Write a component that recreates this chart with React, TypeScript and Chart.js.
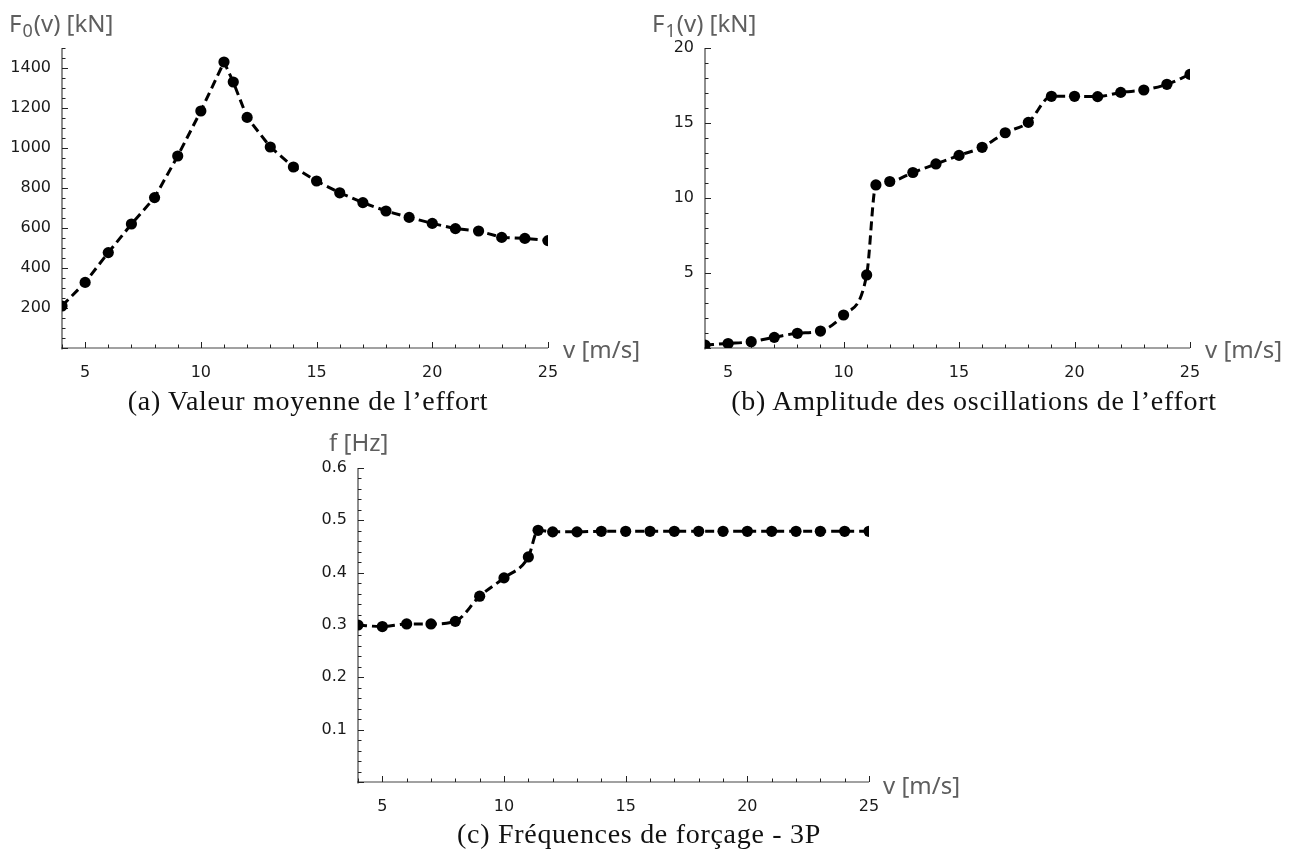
import React, { useEffect, useRef } from 'react';
import { Chart, registerables } from 'chart.js';

Chart.register(...registerables);

// ---------- data ----------
const windSpeed = [4, 5, 6, 7, 8, 9, 10, 11, 11.4, 12, 13, 14, 15, 16, 17, 18, 19, 20, 21, 22, 23, 24, 25];
const meanForce = [210, 328, 477, 620, 752, 960, 1185, 1430, 1330, 1153, 1005, 905, 835, 776, 727, 685, 653, 623, 597, 585, 553, 548, 537];
const amplitude = [0.2, 0.3, 0.42, 0.71, 0.98, 1.13, 2.2, 4.87, 10.87, 11.1, 11.7, 12.27, 12.84, 13.38, 14.35, 15.04, 16.78, 16.78, 16.76, 17.04, 17.2, 17.58, 18.24];
const frequency = [0.3, 0.297, 0.302, 0.302, 0.307, 0.355, 0.39, 0.43, 0.481, 0.478, 0.478, 0.479, 0.479, 0.479, 0.479, 0.479, 0.479, 0.479, 0.479, 0.479, 0.479, 0.479, 0.479];

const speedTicks = [5, 10, 15, 20, 25];
const meanForceTicks = [200, 400, 600, 800, 1000, 1200, 1400];
const amplitudeTicks = [5, 10, 15, 20];
const frequencyTicks = [0.1, 0.2, 0.3, 0.4, 0.5, 0.6];

const TICK_FONT = 'DejaVu Sans';
const LABEL_FONT = 'Noto Sans';
const CAPTION_FONT = 'Liberation Serif';

// Mathematica-like axes: inward ticks with minor subdivisions
const axesPlugin = {
  id: 'mmaAxes',
  beforeDatasetsDraw(chart: any, _args: any, opts: any) {
    const { ctx, chartArea: a, scales } = chart;
    const x = scales.x;
    const y = scales.y;
    ctx.save();
    ctx.strokeStyle = '#444';
    ctx.lineWidth = 1.2;
    ctx.beginPath();
    ctx.moveTo(a.left - 1, a.bottom);
    ctx.lineTo(a.right, a.bottom);
    ctx.moveTo(a.left, a.bottom + 1.5);
    ctx.lineTo(a.left, a.top);
    ctx.stroke();
    ctx.lineWidth = 1;
    ctx.strokeStyle = '#222';
    ctx.beginPath();
    const nx = Math.round((x.max - x.min) / opts.xMinor);
    for (let i = 0; i <= nx; i++) {
      const v = x.min + i * opts.xMinor;
      const r = v / opts.xMajor;
      const major = Math.abs(r - Math.round(r)) < 1e-6;
      const px = Math.round(x.getPixelForValue(v)) + 0.5;
      ctx.moveTo(px, a.bottom);
      ctx.lineTo(px, a.bottom - (major ? 6 : 3.5));
    }
    const ny = Math.round((y.max - y.min) / opts.yMinor);
    for (let i = 0; i <= ny; i++) {
      const v = y.min + i * opts.yMinor;
      const r = v / opts.yMajor;
      const major = Math.abs(r - Math.round(r)) < 1e-6;
      const py = Math.round(y.getPixelForValue(v)) + 0.5;
      ctx.moveTo(a.left, py);
      ctx.lineTo(a.left + (major ? 6 : 3.5), py);
    }
    ctx.stroke();
    ctx.restore();
  },
};

interface PanelProps {
  left: number;
  top: number;
  width: number;
  height: number;
  padTop: number;
  padRight: number;
  yWidth: number;
  xHeight: number;
  values: number[];
  yMax: number;
  yTicks: number[];
  yMinor: number;
  yMajor: number;
  smooth: boolean;
}

function Panel(p: PanelProps) {
  const ref = useRef<HTMLCanvasElement | null>(null);
  useEffect(() => {
    if (!ref.current) return;
    const tickStyle = {
      font: { family: TICK_FONT, size: 16 },
      color: '#1a1a1a',
      autoSkip: false,
      maxRotation: 0,
      callback: (v: any) => String(v),
    };
    const chart = new Chart(ref.current, {
      type: 'line',
      data: {
        datasets: [
          {
            data: windSpeed.map((s, i) => ({ x: s, y: p.values[i] })),
            borderColor: '#000',
            borderWidth: 3,
            borderDash: [9, 5],
            pointRadius: 5.6,
            pointHoverRadius: 5.6,
            pointBorderWidth: 0,
            pointBackgroundColor: '#000',
            tension: 0,
            cubicInterpolationMode: p.smooth ? 'monotone' : 'default',
            fill: false,
          },
        ],
      },
      options: {
        animation: false,
        responsive: false,
        events: [],
        layout: { padding: { left: 0, top: p.padTop, right: p.padRight, bottom: 0 } },
        plugins: {
          legend: { display: false },
          tooltip: { enabled: false },
          mmaAxes: { xMinor: 1, xMajor: 5, yMinor: p.yMinor, yMajor: p.yMajor },
        } as any,
        scales: {
          x: {
            type: 'linear',
            min: 4,
            max: 25,
            grid: { display: false },
            border: { display: false },
            ticks: { ...tickStyle, padding: 7 },
            afterBuildTicks: (s: any) => {
              s.ticks = speedTicks.map((v) => ({ value: v }));
            },
            afterFit: (s: any) => {
              s.height = p.xHeight;
            },
          },
          y: {
            type: 'linear',
            min: 0,
            max: p.yMax,
            grid: { display: false },
            border: { display: false },
            ticks: { ...tickStyle, padding: 3 },
            afterBuildTicks: (s: any) => {
              s.ticks = p.yTicks.map((v) => ({ value: v }));
            },
            afterFit: (s: any) => {
              s.width = p.yWidth;
            },
          },
        },
      } as any,
      plugins: [axesPlugin],
    });
    return () => chart.destroy();
  }, []);
  return (
    <canvas
      ref={ref}
      width={p.width}
      height={p.height}
      style={{ position: 'absolute', left: p.left, top: p.top, width: p.width, height: p.height }}
    />
  );
}

function AxisLabel(props: { left: number; baseline: number; children: React.ReactNode }) {
  const fs = 24;
  return (
    <div
      style={{
        position: 'absolute',
        left: props.left,
        top: props.baseline - fs * 0.85,
        fontFamily: LABEL_FONT,
        fontSize: fs,
        lineHeight: `${fs}px`,
        color: '#5e5e5e',
        whiteSpace: 'nowrap',
      }}
    >
      {props.children}
    </div>
  );
}

function Caption(props: { center: number; baseline: number; text: string }) {
  const fs = 28;
  return (
    <div
      style={{
        position: 'absolute',
        left: props.center - 300,
        width: 600,
        textAlign: 'center',
        top: props.baseline - fs * 0.8375,
        fontFamily: CAPTION_FONT,
        fontSize: fs,
        lineHeight: `${fs}px`,
        letterSpacing: '0.7px',
        color: '#111',
        whiteSpace: 'nowrap',
      }}
    >
      {props.text}
    </div>
  );
}

const sub = (t: string) => (
  <span style={{ fontSize: 18, position: 'relative', top: 5, margin: '0 1px' }}>{t}</span>
);

export default function App() {
  return (
    <div
      style={{
        position: 'absolute',
        left: 0,
        top: 0,
        width: 1297,
        height: 858,
        overflow: 'hidden',
        background: '#fff',
      }}
    >
      <Panel
        left={0}
        top={0}
        width={650}
        height={400}
        padTop={48}
        padRight={102}
        yWidth={62}
        xHeight={52}
        values={meanForce}
        yMax={1500}
        yTicks={meanForceTicks}
        yMinor={50}
        yMajor={200}
        smooth={false}
      />
      <Panel
        left={650}
        top={0}
        width={647}
        height={400}
        padTop={48}
        padRight={107}
        yWidth={55}
        xHeight={52}
        values={amplitude}
        yMax={20}
        yTicks={amplitudeTicks}
        yMinor={1}
        yMajor={5}
        smooth={true}
      />
      <Panel
        left={280}
        top={400}
        width={720}
        height={420}
        padTop={68}
        padRight={131}
        yWidth={78}
        xHeight={38}
        values={frequency}
        yMax={0.6}
        yTicks={frequencyTicks}
        yMinor={0.02}
        yMajor={0.1}
        smooth={true}
      />
      <AxisLabel left={9} baseline={31}>
        F{sub('0')}(v) [kN]
      </AxisLabel>
      <AxisLabel left={652} baseline={31}>
        F{sub('1')}(v) [kN]
      </AxisLabel>
      <AxisLabel left={329} baseline={450}>
        f [Hz]
      </AxisLabel>
      <AxisLabel left={563} baseline={357}>
        v [m/s]
      </AxisLabel>
      <AxisLabel left={1205} baseline={357}>
        v [m/s]
      </AxisLabel>
      <AxisLabel left={883} baseline={793}>
        v [m/s]
      </AxisLabel>
      <Caption center={308} baseline={410} text="(a) Valeur moyenne de l’effort" />
      <Caption center={974} baseline={410} text="(b) Amplitude des oscillations de l’effort" />
      <Caption center={639} baseline={843} text="(c) Fréquences de forçage - 3P" />
    </div>
  );
}
